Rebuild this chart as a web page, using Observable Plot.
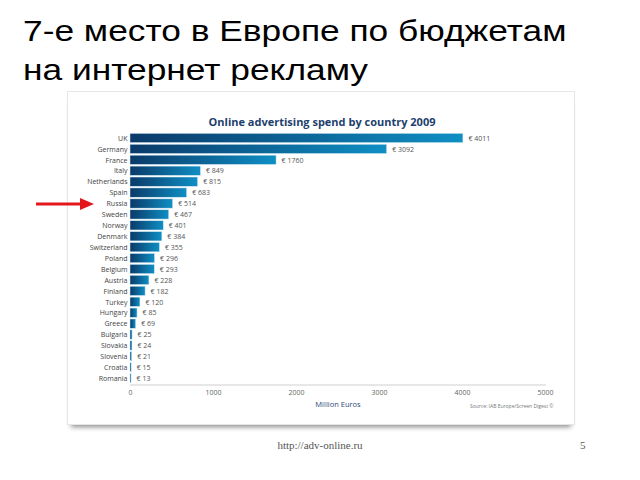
<!DOCTYPE html>
<html><head><meta charset="utf-8">
<script src="https://cdn.jsdelivr.net/npm/d3@7"></script>
<script src="https://cdn.jsdelivr.net/npm/@observablehq/plot@0.6"></script>
<style>
html,body{margin:0;padding:0;background:#fff}
body{width:640px;height:480px;position:relative;overflow:hidden;font-family:"Liberation Sans",Arial,sans-serif}
#title{position:absolute;left:23px;top:12px;font-size:29px;line-height:39px;color:#000;white-space:nowrap;transform:scaleX(1.218);transform-origin:0 0}
#card{position:absolute;left:68px;top:92px;width:506px;height:332px;background:#fff;box-shadow:0 0 0 1px #e6e6e6,0 6px 5px -3px rgba(0,0,0,.45)}
#card svg{display:block}
#footer{position:absolute;left:0;width:640px;top:439px;text-align:center;font-family:"Liberation Serif","Times New Roman",serif;font-size:11px;color:#555}
#pnum{position:absolute;left:580px;top:439px;font-family:"Liberation Serif","Times New Roman",serif;font-size:11px;color:#555}
#arrow{position:absolute;left:0;top:0;z-index:5}
</style>
</head><body>
<div id="title">7-е место в Европе по бюджетам<br>на интернет рекламу</div>
<div id="card"></div>
<svg id="arrow" width="120" height="240"><line x1="36" y1="204" x2="84" y2="204" stroke="#e3161b" stroke-width="3.2"/><polygon points="80,198 94,204 80,210" fill="#e3161b"/></svg>
<div id="footer">http://adv-online.ru</div>
<div id="pnum">5</div>
<script>
const countries = ["UK","Germany","France","Italy","Netherlands","Spain","Russia","Sweden","Norway","Denmark","Switzerland","Poland","Belgium","Austria","Finland","Turkey","Hungary","Greece","Bulgaria","Slovakia","Slovenia","Croatia","Romania"];
const values = [4011,3092,1760,849,815,683,514,467,401,384,355,296,293,228,182,120,85,69,25,24,21,15,13];
const xTicks = [0,1000,2000,3000,4000,5000];
const chartTitle = "Online advertising spend by country 2009";
const xLabel = "Million Euros";
const sourceNote = "Source: IAB Europe/Screen Digest ©";

const data = countries.map((c,i)=>({country:c, value:values[i]}));

const defs = () => {
  const d = d3.create("svg:defs");
  const g = d.append("linearGradient").attr("id","barGrad").attr("x1","0").attr("x2","1").attr("y1","0").attr("y2","0");
  g.append("stop").attr("offset","0%").attr("stop-color","#0a3a69");
  g.append("stop").attr("offset","100%").attr("stop-color","#0f8fc4");
  return d.node();
};

const chart = Plot.plot({
  width: 506,
  height: 332,
  marginLeft: 62,
  marginRight: 29,
  marginTop: 39.7,
  marginBottom: 39.5,
  style: {fontFamily: "'Open Sans', sans-serif", background: "transparent"},
  x: {domain: [0,5000]},
  y: {domain: countries, padding: 0.15, round: false},
  marks: [
    defs,
    Plot.frame({anchor: "bottom", stroke: "#cfcfcf"}),
    Plot.barX(data, {x: "value", y: "country", fill: "url(#barGrad)", stroke: "#d8ecf5", strokeWidth: 0.5}),
    Plot.text(data, {x: "value", y: "country", text: d => "€ " + d.value, dx: 5, textAnchor: "start", fontSize: 7, fill: "#555"}),
    Plot.axisY({tickSize: 0, tickPadding: 3, fontSize: 7, color: "#444", label: null}),
    Plot.axisX({ticks: xTicks, tickSize: 0, tickPadding: 5, fontSize: 7, color: "#666", label: null, tickFormat: d => String(d)}),
    Plot.text([chartTitle], {frameAnchor: "top", dy: -14, dx: -16, fontWeight: "bold", fontSize: 11, fill: "#1d3f6e"}),
    Plot.text([xLabel], {frameAnchor: "bottom", dy: 22, fontSize: 7.5, fill: "#2b4a78"}),
    Plot.text([sourceNote], {frameAnchor: "bottom-right", dy: 23, dx: 8, textAnchor: "end", fontSize: 5, fill: "#777"})
  ]
});
document.getElementById("card").appendChild(chart);
</script>
</body></html>
